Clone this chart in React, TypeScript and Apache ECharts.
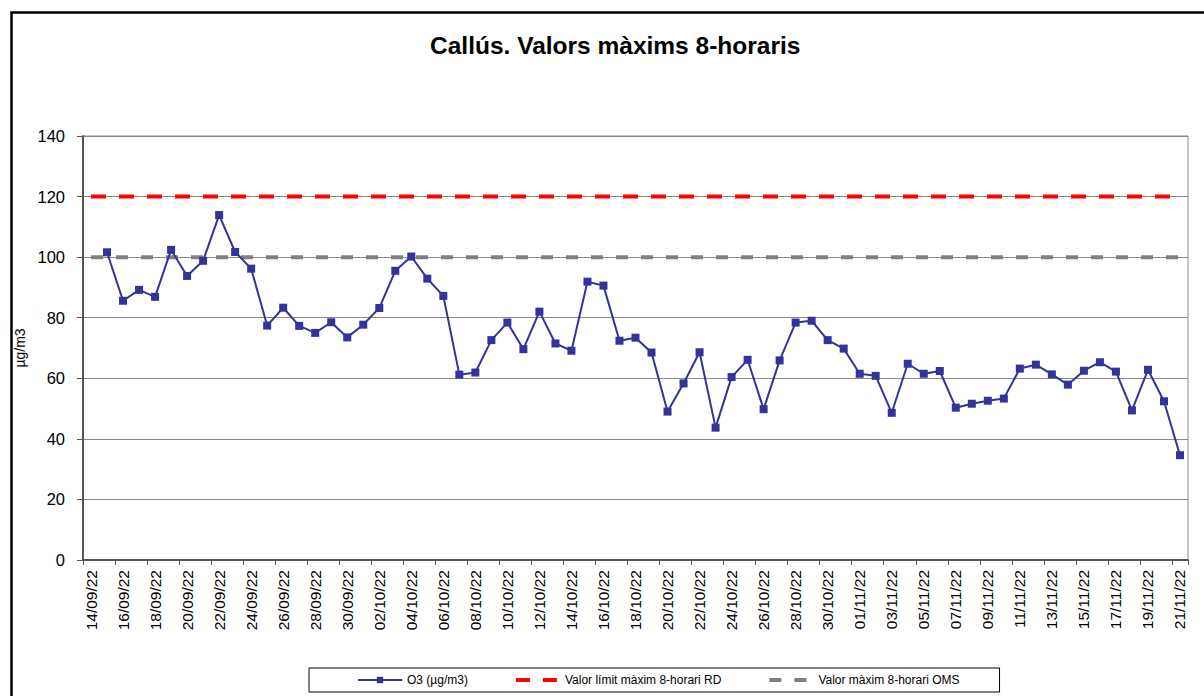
import React, { useEffect, useRef } from "react";
import * as echarts from "echarts";

const TITLE = "Callús. Valors màxims 8-horaris";
const Y_NAME = "µg/m3";

const DATES: string[] = [
  "14/09/22","15/09/22","16/09/22","17/09/22","18/09/22","19/09/22","20/09/22","21/09/22","22/09/22","23/09/22",
  "24/09/22","25/09/22","26/09/22","27/09/22","28/09/22","29/09/22","30/09/22",
  "01/10/22","02/10/22","03/10/22","04/10/22","05/10/22","06/10/22","07/10/22","08/10/22","09/10/22","10/10/22",
  "11/10/22","12/10/22","13/10/22","14/10/22","15/10/22","16/10/22","17/10/22","18/10/22","19/10/22","20/10/22",
  "21/10/22","22/10/22","23/10/22","24/10/22","25/10/22","26/10/22","27/10/22","28/10/22","29/10/22","30/10/22","31/10/22",
  "01/11/22","02/11/22","03/11/22","04/11/22","05/11/22","06/11/22","07/11/22","08/11/22","09/11/22","10/11/22",
  "11/11/22","12/11/22","13/11/22","14/11/22","15/11/22","16/11/22","17/11/22","18/11/22","19/11/22","20/11/22","21/11/22",
];

const O3: (number | null)[] = [
  null, 101.6, 85.6, 89.2, 86.9, 102.4, 93.8, 98.8, 113.9, 101.7,
  96.2, 77.4, 83.3, 77.3, 75.0, 78.5, 73.5, 77.7, 83.2, 95.5,
  100.2, 92.9, 87.2, 61.2, 61.9, 72.6, 78.4, 69.6, 82.0, 71.5,
  69.1, 91.9, 90.6, 72.4, 73.4, 68.5, 49.0, 58.3, 68.6, 43.7,
  60.4, 66.1, 49.8, 65.9, 78.4, 79.0, 72.6, 69.8, 61.5, 60.8,
  48.6, 64.8, 61.5, 62.4, 50.3, 51.6, 52.6, 53.3, 63.2, 64.5,
  61.3, 57.9, 62.5, 65.3, 62.2, 49.4, 62.8, 52.4, 34.6,
];

const LIMIT_RD: number[] = DATES.map(() => 120);
const LIMIT_OMS: number[] = DATES.map(() => 100);

const SERIES_NAMES = [
  "O3 (µg/m3)",
  "Valor límit màxim 8-horari RD",
  "Valor màxim 8-horari OMS",
];

const Y_MIN = 0;
const Y_MAX = 140;
const Y_STEP = 20;

export default function App() {
  const ref = useRef<HTMLDivElement>(null);

  useEffect(() => {
    if (!ref.current) return;
    const chart = echarts.init(ref.current, null, { renderer: "svg" });
    const font = "'Liberation Sans', Arial, sans-serif";
    chart.setOption({
      animation: false,
      backgroundColor: "#ffffff",
      textStyle: { fontFamily: font, color: "#000" },
      title: {
        text: TITLE,
        left: 425,
        top: 28,
        textStyle: { fontFamily: font, fontSize: 24.5, fontWeight: "bold", color: "#000" },
      },
      graphic: [
        {
          type: "rect",
          left: 9,
          top: 10,
          shape: { x: 0, y: 0, width: 1300, height: 800 },
          style: { fill: "none", stroke: "#000", lineWidth: 2.5 },
          silent: true,
          z: 100,
        },
      ],
      grid: {
        left: 83,
        right: 16,
        top: 136,
        bottom: 136,
        containLabel: false,
        show: true,
        borderColor: "#8a8a8a",
        borderWidth: 1,
        backgroundColor: "transparent",
      },
      legend: {
        left: 309,
        top: 668,
        orient: "horizontal",
        padding: [6, 40, 6, 48],
        itemGap: 46,
        itemWidth: 44,
        itemHeight: 8,
        borderColor: "#000",
        borderWidth: 1,
        backgroundColor: "#fff",
        textStyle: { fontFamily: font, fontSize: 12, color: "#000" },
        data: [
          { name: SERIES_NAMES[0] },
          {
            name: SERIES_NAMES[1],
            lineStyle: { type: [14, 13], width: 4 },
            itemStyle: { opacity: 0 },
          },
          {
            name: SERIES_NAMES[2],
            lineStyle: { type: [12, 13], width: 4 },
            itemStyle: { opacity: 0 },
          },
        ],
      },
      xAxis: {
        type: "category",
        data: DATES,
        boundaryGap: true,
        axisLine: { show: true, lineStyle: { color: "#555", width: 2 } },
        axisTick: { show: true, interval: 1, length: 5, lineStyle: { color: "#555", width: 1 } },
        axisLabel: {
          interval: 1,
          rotate: 90,
          margin: 10,
          fontFamily: font,
          fontSize: 15.5,
          color: "#000",
        },
        splitLine: { show: false },
      },
      yAxis: {
        type: "value",
        min: Y_MIN,
        max: Y_MAX,
        interval: Y_STEP,
        name: Y_NAME,
        nameLocation: "middle",
        nameRotate: 90,
        nameGap: 56,
        nameTextStyle: { fontFamily: font, fontSize: 14, color: "#000" },
        axisLine: { show: true, lineStyle: { color: "#555", width: 2 } },
        axisTick: { show: true, length: 6, lineStyle: { color: "#555", width: 1 } },
        axisLabel: { margin: 18, fontFamily: font, fontSize: 16.5, color: "#000" },
        splitLine: { show: true, lineStyle: { color: "#8a8a8a", width: 1 } },
      },
      series: [
        {
          name: SERIES_NAMES[1],
          type: "line",
          data: LIMIT_RD,
          symbol: "none",
          z: 2,
          lineStyle: { color: "#ff0000", width: 4, type: [15, 13] },
          itemStyle: { color: "#ff0000" },
        },
        {
          name: SERIES_NAMES[2],
          type: "line",
          data: LIMIT_OMS,
          symbol: "none",
          z: 2,
          lineStyle: { color: "#808080", width: 4, type: [12, 13] },
          itemStyle: { color: "#808080" },
        },
        {
          name: SERIES_NAMES[0],
          type: "line",
          data: O3,
          connectNulls: false,
          symbol: "rect",
          symbolSize: 8,
          z: 3,
          lineStyle: { color: "#333399", width: 2 },
          itemStyle: { color: "#333399" },
        },
      ],
    });
    return () => chart.dispose();
  }, []);

  return (
    <div
      ref={ref}
      style={{ position: "absolute", left: 0, top: 0, width: 1204, height: 696 }}
    />
  );
}
